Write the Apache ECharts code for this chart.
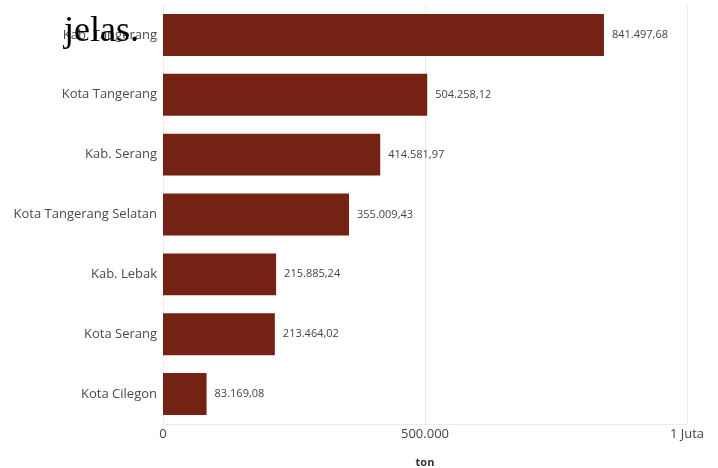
<!DOCTYPE html>
<html>
<head>
<meta charset="utf-8">
<style>html,body{margin:0;padding:0;background:#fff}#c{width:718px;height:468px}</style>
<script src="https://cdn.jsdelivr.net/npm/echarts@6/dist/echarts.min.js"></script>
</head>
<body>
<div id="c"></div>
<script>
const categories = ["Kab. Tangerang","Kota Tangerang","Kab. Serang","Kota Tangerang Selatan","Kab. Lebak","Kota Serang","Kota Cilegon"];
const values = [841497.68, 504258.12, 414581.97, 355009.43, 215885.24, 213464.02, 83169.08];
const tickValues = [0, 500000, 1000000];
const tickLabels = ["0", "500.000", "1 Juta"];
const axisName = "ton";
const overlayText = "jelas.";

const fmt = v => v.toLocaleString('id-ID', {minimumFractionDigits: 2, maximumFractionDigits: 2});
const font = '"Open Sans", "Noto Sans", sans-serif';

const chart = echarts.init(document.getElementById('c'));
chart.setOption({
  animation: false,
  grid: {left: 163, right: 31, top: 5, bottom: 44, containLabel: false, outerBoundsMode: 'none'},
  xAxis: {
    type: 'value', min: 0, max: 1000000, interval: 500000,
    axisLine: {show: true, lineStyle: {color: '#ececec'}},
    axisTick: {show: false},
    splitLine: {show: true, lineStyle: {color: '#ececec'}},
    axisLabel: {
      color: '#444', fontFamily: font, fontSize: 13, margin: 4,
      formatter: v => tickLabels[tickValues.indexOf(v)] ?? ''
    },
    name: axisName, nameLocation: 'middle', nameGap: 33,
    nameTextStyle: {color: '#333', fontFamily: font, fontSize: 11, fontWeight: 'bold'}
  },
  yAxis: {
    type: 'category', data: categories, inverse: true,
    axisLine: {show: false}, axisTick: {show: false},
    axisLabel: {color: '#4a4a4a', fontFamily: font, fontSize: 13, margin: 6}
  },
  series: [{
    type: 'bar', data: values, barWidth: '70%',
    itemStyle: {color: '#742213'},
    label: {show: true, position: 'right', distance: 8, color: '#444', fontFamily: font, fontSize: 11,
      formatter: p => fmt(p.value)}
  }],
  graphic: [{
    type: 'text', left: 64, top: 14, z: 100,
    style: {text: overlayText, fill: '#000', font: '36px "Liberation Serif", "DejaVu Serif", serif'}
  }]
});
</script>
</body>
</html>
